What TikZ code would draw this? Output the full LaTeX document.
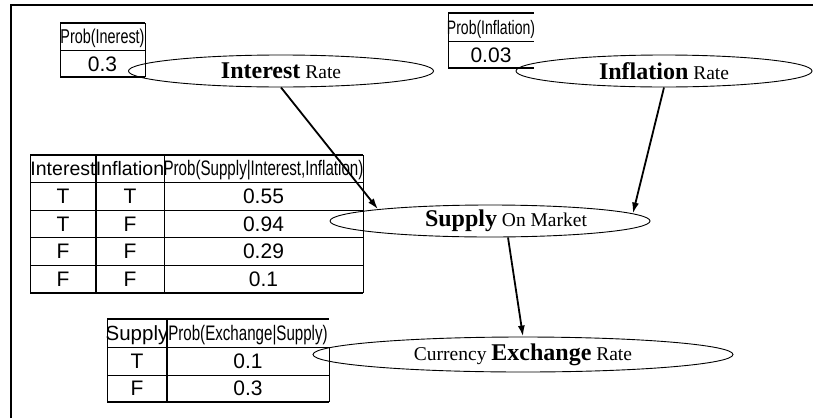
\documentclass[tikz,border=0pt]{standalone}
\usepackage{fontspec}
\setmainfont{Liberation Serif}
\newfontfamily\tabfont{Liberation Sans}
\newfontfamily\narrowfont[FakeStretch=0.72]{Liberation Sans}
\usetikzlibrary{shapes.geometric,arrows.meta}

\begin{document}
\begin{tikzpicture}[x=1pt, y=-1pt, >={Latex[length=11pt,width=7pt]},
  chance/.style={ellipse, draw, line width=0.9pt, inner sep=0pt, font=\fontsize{19.5}{19.5}\selectfont},
  cell/.style={inner sep=0pt, text height=15pt, text depth=0pt, font=\tabfont\fontsize{21}{21}\selectfont},
  probhead/.style={inner sep=0pt, text height=14pt, text depth=0pt, font=\narrowfont\fontsize{#1}{#1}\selectfont},
  rule/.style={line width=0.9pt},
  edge/.style={line width=1.8pt},
  link/.style={->, line width=1.8pt}]
  \useasboundingbox (0,0) rectangle (813,418);
  % frame
  \draw[line width=1.4pt] (11,418) -- (11,5) -- (813,5);

  % chance nodes
  \node[chance, minimum width=305pt, minimum height=32pt] (interest) at (281,71)
    {\textbf{\fontsize{24}{24}\selectfont Interest} Rate};
  \node[chance, minimum width=296pt, minimum height=32pt] (inflation) at (664,71)
    {\textbf{\fontsize{24}{24}\selectfont Inflation} Rate};
  \node[chance, minimum width=320pt, minimum height=32pt] (supply) at (490,221)
    {\hspace*{32pt}\textbf{\fontsize{24}{24}\selectfont Supply} On Market};
  \node[chance, minimum width=420pt, minimum height=35pt] (exchange) at (523,354.5)
    {Currency \textbf{\fontsize{24}{24}\selectfont Exchange} Rate};

  \draw[link] (interest.south) -- (supply.174);
  \draw[link] (inflation.south) -- (supply.3);
  \draw[link] ([xshift=18pt]supply.south) -- (exchange.north);

  % Prob(Interest)
  \draw[edge] (60,23) -- (145,23);
  \draw[rule] (60,50) -- (145,50);
  \draw[edge] (60,77) -- (145,77);
  \draw[rule] (60,23) -- (60,77) (145,23) -- (145,77);
  \node[probhead=20] (pint) at (102.5,36.5) {Prob(Inerest)};
  \node[cell] (pintv) at (102.5,63.5) {0.3};

  % Prob(Inflation)
  \draw[edge] (448,13) -- (534,13);
  \draw[rule] (448,41) -- (534,41);
  \draw[edge] (448,68) -- (534,68);
  \draw[rule] (448,13) -- (448,68);
  \node[probhead=19.5] (pinf) at (491,27) {Prob(Inflation)};
  \node[cell] (pinfv) at (491,54.5) {0.03};

  % Prob(Supply|Interest,Inflation)
  \draw[edge] (30,155) -- (363,155) (30,293) -- (363,293);
  \foreach \y in {182,210,237,265}
    \draw[rule] (30,\y) -- (363,\y);
  \draw[rule] (30,155) -- (30,293) (164,155) -- (164,293) (363,155) -- (363,293);
  \draw[edge] (96,155) -- (96,293);
  \node[cell, font=\tabfont\fontsize{19.5}{19.5}\selectfont, text height=14pt] (sh1) at (63,168.5) {Interest};
  \node[cell, font=\tabfont\fontsize{19.5}{19.5}\selectfont, text height=14pt] (sh2) at (130,168.5) {Inflation};
  \node[probhead=21] (sh3) at (263.5,168.5) {Prob(Supply|Interest,Inflation)};
  \foreach \a/\b/\p [count=\i, evaluate=\i as \yy using 168.5+27.6*\i] in
      {T/T/0.55, T/F/0.94, F/F/0.29, F/F/0.1} {
    \node[cell] (sa\i) at (63,\yy) {\a};
    \node[cell] (sb\i) at (130,\yy) {\b};
    \node[cell] (sp\i) at (263.5,\yy) {\p};
  }

  % Prob(Exchange|Supply)
  \draw[edge] (107,319) -- (329,319) (107,402) -- (329,402);
  \draw[rule] (107,347) -- (329,347) (107,375) -- (329,375);
  \draw[rule] (107,319) -- (107,402) (329,347) -- (329,402);
  \draw[edge] (167,319) -- (167,402);
  \node[cell, font=\tabfont\fontsize{20.5}{20.5}\selectfont] (eh1) at (137,333) {Supply};
  \node[probhead=21] (eh2) at (248,333) {Prob(Exchange|Supply)};
  \foreach \a/\p [count=\i, evaluate=\i as \yy using 333+27.6*\i] in {T/0.1, F/0.3} {
    \node[cell] (ea\i) at (137,\yy) {\a};
    \node[cell] (ep\i) at (248,\yy) {\p};
  }
\end{tikzpicture}
\end{document}
